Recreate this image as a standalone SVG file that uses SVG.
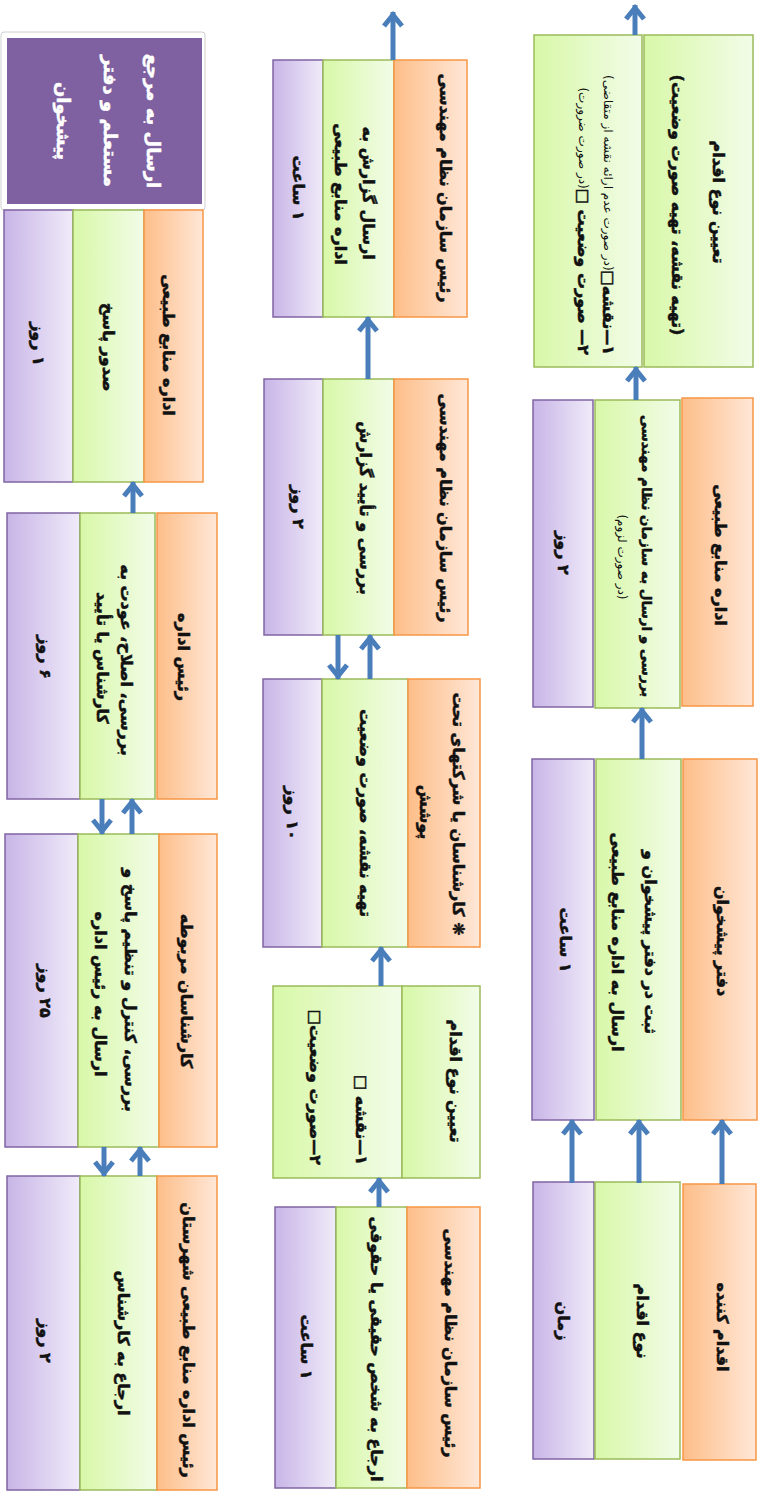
<svg xmlns="http://www.w3.org/2000/svg" width="761" height="1505" viewBox="0 0 761 1505">
<defs>
<linearGradient id="gO" x1="0" y1="0" x2="1" y2="0"><stop offset="0" stop-color="#FDBE89"/><stop offset="1" stop-color="#FFE7D7"/></linearGradient>
<linearGradient id="gG" x1="0" y1="0" x2="1" y2="0"><stop offset="0" stop-color="#D8F8A8"/><stop offset="1" stop-color="#F2FCE8"/></linearGradient>
<linearGradient id="gP" x1="0" y1="0" x2="1" y2="0"><stop offset="0" stop-color="#C8B5E7"/><stop offset="1" stop-color="#F0EBF9"/></linearGradient>
<marker id="arr" markerUnits="userSpaceOnUse" markerWidth="24" markerHeight="24" viewBox="0 0 24 24" refX="20" refY="12" orient="auto">
<path d="M6,3 L17,12 L6,21" fill="none" stroke="#4A7EBB" stroke-width="5"/>
</marker>
</defs>
<style>
.o{fill:url(#gO);stroke:#F79646;stroke-width:1.5}
.g{fill:url(#gG);stroke:#9BBB59;stroke-width:1.5}
.p{fill:url(#gP);stroke:#8064A2;stroke-width:1.5}
.t{font-family:"DejaVu Sans",sans-serif;font-weight:bold;font-size:16px;fill:#111;stroke:#111;stroke-width:0.5;text-anchor:middle;dominant-baseline:central;direction:rtl}
.s{font-weight:normal;font-size:12px;stroke:none}
.w{fill:#fff;stroke:#fff;font-size:18px}
.r{text-anchor:start}
.n{font-size:13.5px}
.c{fill:none;stroke:#4A7EBB;stroke-width:5;marker-end:url(#arr)}
</style>

<!-- Column 1 -->
<g id="c1-header">
<rect class="p" x="533" y="1182" width="61" height="277"/>
<rect class="g" x="595" y="1182" width="85" height="277"/>
<rect class="o" x="683" y="1184" width="73" height="276"/>
<text class="t" transform="translate(722,1327) rotate(90)">اقدام کننده</text>
<text class="t" transform="translate(642,1321) rotate(90)">نوع اقدام</text>
<text class="t" transform="translate(563,1321) rotate(90)">زمان</text>
</g>
<g id="c1-step2">
<rect class="p" x="532" y="759" width="62" height="361"/>
<rect class="g" x="596" y="759" width="85" height="361"/>
<rect class="o" x="683" y="759" width="74" height="361"/>
<text class="t" transform="translate(722,941) rotate(90)">دفتر پیشخوان</text>
<text class="t" transform="translate(650,942) rotate(90)">ثبت در دفتر پیشخوان و</text>
<text class="t" transform="translate(617,942) rotate(90)">ارسال به اداره منابع طبیعی</text>
<text class="t" transform="translate(565,940) rotate(90)">۱ ساعت</text>
</g>
<g id="c1-step3">
<rect class="p" x="533" y="400" width="60" height="307"/>
<rect class="g" x="595" y="400" width="85" height="308"/>
<rect class="o" x="682" y="398" width="71" height="308"/>
<text class="t" transform="translate(720,555) rotate(90)">اداره منابع طبیعی</text>
<text class="t n" transform="translate(647,556) rotate(90)">بررسی و ارسال به سازمان نظام مهندسی</text>
<text class="t s" transform="translate(622,557) rotate(90)">(در صورت لزوم)</text>
<text class="t" transform="translate(563,553) rotate(90)">۲ روز</text>
</g>
<g id="c1-step4">
<rect class="g" x="534" y="35" width="108" height="332"/>
<rect class="g" x="644" y="35" width="109" height="332"/>
<text class="t" transform="translate(718,202) rotate(90)">تعیین نوع اقدام</text>
<text class="t" transform="translate(677,205) rotate(90)">(تهیه نقشه، تهیه صورت وضعیت)</text>
<text class="t r" transform="translate(608,355) rotate(90)">۱—نقشه□<tspan class="s">(در صورت عدم ارائه نقشه از متقاضی)</tspan></text>
<text class="t r" transform="translate(583,355) rotate(90)">۲— صورت وضعیت □<tspan class="s">(در صورت ضرورت)</tspan></text>
</g>

<!-- Column 2 -->
<g id="c2-stepA">
<rect class="p" x="275" y="1207" width="61" height="281"/>
<rect class="g" x="336" y="1207" width="71" height="281"/>
<rect class="o" x="407" y="1207" width="73" height="281"/>
<text class="t" transform="translate(450,1343) rotate(90)">رئیس سازمان نظام مهندسی</text>
<text class="t" transform="translate(376,1349) rotate(90)">ارجاع به شخص حقیقی یا حقوقی</text>
<text class="t" transform="translate(306,1347) rotate(90)">۱ ساعت</text>
</g>
<g id="c2-stepB">
<rect class="g" x="273" y="986" width="129" height="192"/>
<rect class="g" x="402" y="986" width="78" height="192"/>
<text class="t" transform="translate(455,1081) rotate(90)">تعیین نوع اقدام</text>
<text class="t r" transform="translate(361,1165) rotate(90)">۱—نقشه □</text>
<text class="t r" transform="translate(315,1165) rotate(90)">۲—صورت وضعیت□</text>
</g>
<g id="c2-stepC">
<rect class="p" x="263" y="679" width="59" height="268"/>
<rect class="g" x="322" y="679" width="86" height="268"/>
<rect class="o" x="408" y="679" width="72" height="268"/>
<text class="t" transform="translate(458,814) rotate(90)">❋ کارشناسان یا شرکتهای تحت</text>
<text class="t" transform="translate(425,812) rotate(90)">پوشش</text>
<text class="t" transform="translate(365,813) rotate(90)">تهیه نقشه، صورت وضعیت</text>
<text class="t" transform="translate(292,813) rotate(90)">۱۰ روز</text>
</g>
<g id="c2-stepD">
<rect class="p" x="264" y="379" width="59" height="256"/>
<rect class="g" x="323" y="379" width="71" height="256"/>
<rect class="o" x="394" y="379" width="74" height="256"/>
<text class="t" transform="translate(445,508) rotate(90)">رئیس سازمان نظام مهندسی</text>
<text class="t" transform="translate(365,508) rotate(90)">بررسی و تأیید گزارش</text>
<text class="t" transform="translate(298,507) rotate(90)">۲ روز</text>
</g>
<g id="c2-stepE">
<rect class="p" x="273" y="60" width="50" height="257"/>
<rect class="g" x="323" y="60" width="71" height="257"/>
<rect class="o" x="394" y="60" width="73" height="257"/>
<text class="t" transform="translate(445,188) rotate(90)">رئیس سازمان نظام مهندسی</text>
<text class="t" transform="translate(368,193) rotate(90)">ارسال گزارش به</text>
<text class="t" transform="translate(340,194) rotate(90)">اداره منابع طبیعی</text>
<text class="t" transform="translate(298,188) rotate(90)">۱ ساعت</text>
</g>

<!-- Column 3 -->
<g id="c3-box">
<rect x="1" y="32" width="204" height="178" rx="3" fill="#fff" stroke="#d0d0d0" stroke-width="1"/>
<rect x="7" y="38" width="195" height="166" fill="#7F60A0"/>
<text class="t w" transform="translate(153,121) rotate(90)">ارسال به مرجع</text>
<text class="t w" transform="translate(110,121) rotate(90)">مستعلم و دفتر</text>
<text class="t w" transform="translate(63,121) rotate(90)">پیشخوان</text>
</g>
<g id="c3-step1">
<rect class="p" x="4" y="210" width="69" height="272"/>
<rect class="g" x="73" y="210" width="71" height="272"/>
<rect class="o" x="144" y="210" width="59" height="272"/>
<text class="t" transform="translate(168,345) rotate(90)">اداره منابع طبیعی</text>
<text class="t" transform="translate(108,347) rotate(90)">صدور پاسخ</text>
<text class="t" transform="translate(38,344) rotate(90)">۱ روز</text>
</g>
<g id="c3-step2">
<rect class="p" x="7" y="513" width="73" height="286"/>
<rect class="g" x="80" y="513" width="75" height="286"/>
<rect class="o" x="157" y="513" width="60" height="286"/>
<text class="t" transform="translate(183,657) rotate(90)">رئیس اداره</text>
<text class="t" transform="translate(126,660) rotate(90)">بررسی، اصلاح، عودت به</text>
<text class="t" transform="translate(102,658) rotate(90)">کارشناس یا تأیید</text>
<text class="t" transform="translate(45,657) rotate(90)">۶ روز</text>
</g>
<g id="c3-step3">
<rect class="p" x="5" y="834" width="73" height="313"/>
<rect class="g" x="78" y="834" width="81" height="313"/>
<rect class="o" x="159" y="834" width="58" height="313"/>
<text class="t" transform="translate(186,991) rotate(90)">کارشناسان مربوطه</text>
<text class="t" transform="translate(130,990) rotate(90)">بررسی، کنترل و تنظیم پاسخ و</text>
<text class="t" transform="translate(100,994) rotate(90)">ارسال به رئیس اداره</text>
<text class="t" transform="translate(45,991) rotate(90)">۲۵ روز</text>
</g>
<g id="c3-step4">
<rect class="p" x="7" y="1176" width="73" height="314"/>
<rect class="g" x="80" y="1176" width="77" height="314"/>
<rect class="o" x="157" y="1176" width="60" height="314"/>
<text class="t" transform="translate(188,1340) rotate(90)">رئیس اداره منابع طبیعی شهرستان</text>
<text class="t" transform="translate(123,1343) rotate(90)">ارجاع به کارشناس</text>
<text class="t" transform="translate(45,1341) rotate(90)">۲ روز</text>
</g>

<g id="connectors">
<path class="c" d="M572,1183 V1120"/>
<path class="c" d="M639,1183 V1120"/>
<path class="c" d="M722,1184 V1120"/>
<path class="c" d="M642,759 V708"/>
<path class="c" d="M636,400 V367"/>
<path class="c" d="M635,35 V5"/>
<path class="c" d="M379,1207 V1178"/>
<path class="c" d="M381,986 V947"/>
<path class="c" d="M370,679 V635"/>
<path class="c" d="M338,635 V679"/>
<path class="c" d="M368,379 V317"/>
<path class="c" d="M393,60 V12"/>
<path class="c" d="M133,513 V482"/>
<path class="c" d="M132,834 V799"/>
<path class="c" d="M102,799 V834"/>
<path class="c" d="M140,1176 V1147"/>
<path class="c" d="M104,1147 V1176"/>
</g>
</svg>
